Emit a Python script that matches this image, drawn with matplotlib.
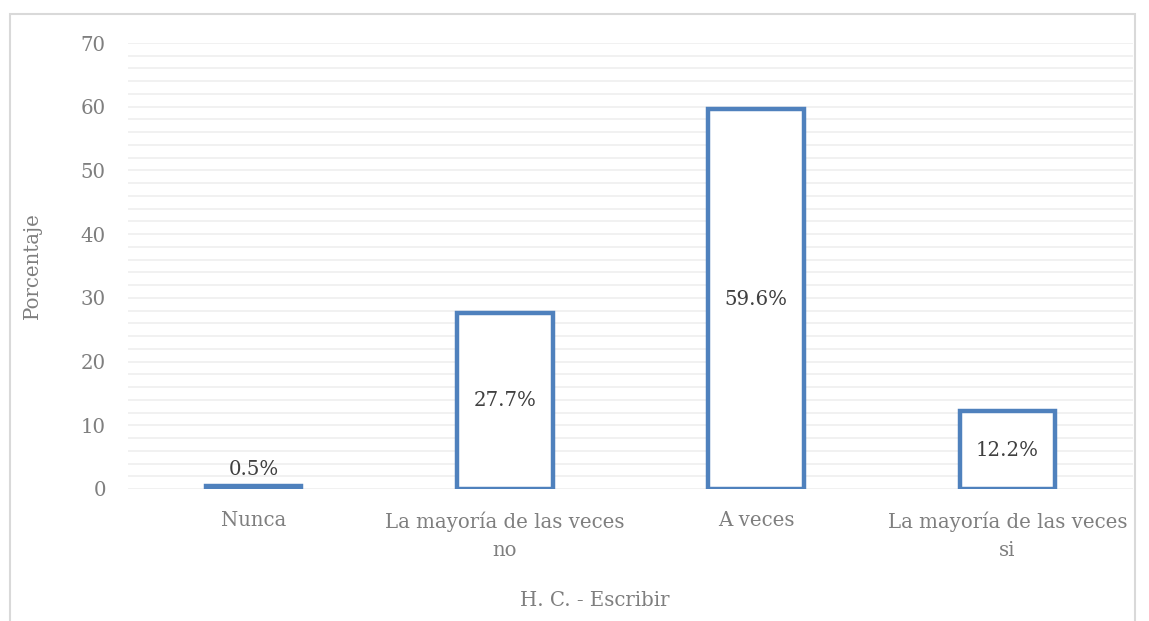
import matplotlib
matplotlib.use("Agg")
import matplotlib.pyplot as plt
from matplotlib.patches import Rectangle
import numpy as np

categories = ["Nunca", "La mayoría de las veces\nno", "A veces", "La mayoría de las veces\nsi"]
values = [0.5, 27.7, 59.6, 12.2]
labels = ["0.5%", "27.7%", "59.6%", "12.2%"]
yticks = [0, 10, 20, 30, 40, 50, 60, 70]

W, H = 1149, 621
fig = plt.figure(figsize=(W/100, H/100), dpi=100)
plt.rcParams['font.family'] = ['DejaVu Serif']
fs = 14.2

fig.patches.append(Rectangle((10/W, -0.1), (1135-10)/W, (H-14)/H + 0.1, transform=fig.transFigure,
                             fill=False, edgecolor='#d9d9d9', linewidth=1.5))

ax = fig.add_axes([128/W, 1-489/H, (1133-128)/W, (489-43)/H])
x = np.arange(len(categories))
blue = '#4f81bd'
ax.bar(x, values, width=0.38, facecolor='white', edgecolor=blue, linewidth=3.2, zorder=3)
ax.set_xlim(-0.5, 3.5)
ax.set_ylim(0, 70)
ax.set_yticks(yticks)
ax.set_yticks(np.arange(0, 71, 2), minor=True)
ax.grid(True, which='both', axis='y', color='#efefef', linewidth=1.2, zorder=0)
for s in ax.spines.values():
    s.set_visible(False)
ax.tick_params(axis='both', which='both', length=0)
ax.tick_params(axis='y', labelsize=fs, labelcolor='#7f7f7f', pad=16)
ax.set_xticks(x)
ax.set_xticklabels(categories, fontsize=fs, color='#7f7f7f', linespacing=1.6)
ax.tick_params(axis='x', pad=16)

for xi, v, lab in zip(x, values, labels):
    if v < 5:
        ax.text(xi, v + 1.0, lab, ha='center', va='bottom', fontsize=fs, color='#404040', zorder=4)
    else:
        ax.text(xi, v / 2, lab, ha='center', va='center', fontsize=fs, color='#404040', zorder=4)

fig.text(32/W, 1-266/H, "Porcentaje", rotation=90, ha='center', va='center', fontsize=fs, color='#7f7f7f')
fig.text(595/W, 1-600/H, "H. C. - Escribir", ha='center', va='center', fontsize=fs, color='#7f7f7f')

fig.savefig("out.png", dpi=100)
